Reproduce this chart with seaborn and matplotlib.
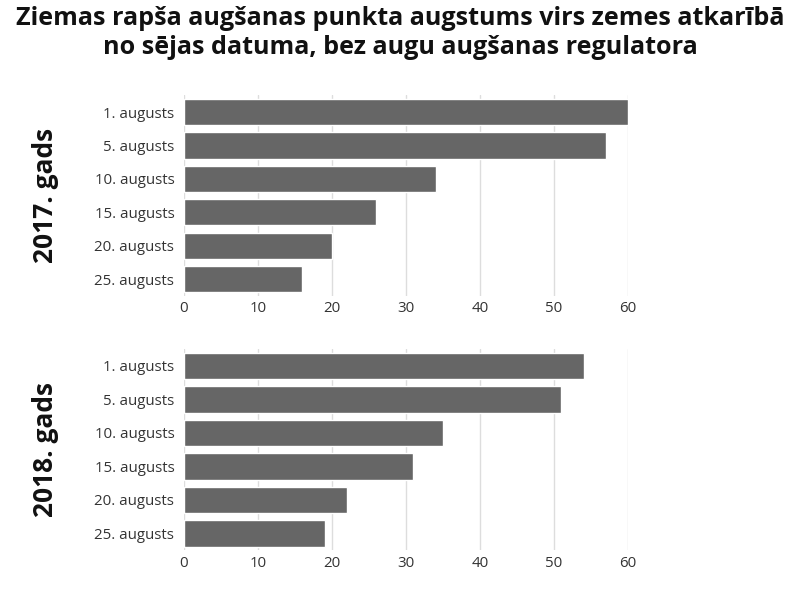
import matplotlib
matplotlib.use('Agg')
import matplotlib.pyplot as plt
import pandas as pd
import seaborn as sns

sns.set_theme(style='white')
plt.rcParams['font.family'] = ['Open Sans', 'DejaVu Sans']

# sowing dates and growth point height (mm)
dates = ['1. augusts', '5. augusts', '10. augusts', '15. augusts', '20. augusts', '25. augusts']
height_2017 = [60, 57, 34, 26, 20, 16]
height_2018 = [54, 51, 35, 31, 22, 19]
panel_labels = ['2017. gads', '2018. gads']
xticks = [0, 10, 20, 30, 40, 50, 60]

bar_color = '#666666'
grid_color = '#dddddd'
text_color = '#333333'

fig = plt.figure(figsize=(8, 6), dpi=100)
ax_top = fig.add_axes([0.23, 0.507, 0.555, 0.334])
ax_bot = fig.add_axes([0.23, 0.083, 0.555, 0.335])

for ax, vals, label in zip([ax_top, ax_bot], [height_2017, height_2018], panel_labels):
    df = pd.DataFrame({'date': dates, 'value': vals})
    sns.barplot(data=df, x='value', y='date', color=bar_color, saturation=1,
                width=0.78, ax=ax, zorder=3)
    ax.set_xlim(0, 60)
    ax.set_xticks(xticks)
    ax.set_xticklabels([str(t) for t in xticks], color=text_color, fontsize=10.8)
    ax.set_yticklabels(dates, color=text_color, fontsize=10.8)
    ax.tick_params(axis='y', length=0, pad=7)
    ax.tick_params(axis='x', length=0, pad=4)
    ax.xaxis.grid(True, color=grid_color, linewidth=1, zorder=0)
    ax.set_axisbelow(True)
    for s in ax.spines.values():
        s.set_visible(False)
    ax.set_xlabel('')
    ax.set_ylabel('')
    pos = ax.get_position()
    fig.text(0.057, (pos.y0 + pos.y1) / 2, label, rotation=90, ha='center', va='center',
             fontsize=19, fontweight='bold', color='#111111')

fig.text(0.5, 0.99, 'Ziemas rapša augšanas punkta augstums virs zemes atkarībā\nno sējas datuma, bez augu augšanas regulatora',
         ha='center', va='top', fontsize=18.1, fontweight='bold', color='#111111', linespacing=1.22)

fig.savefig('out.png', dpi=100)
